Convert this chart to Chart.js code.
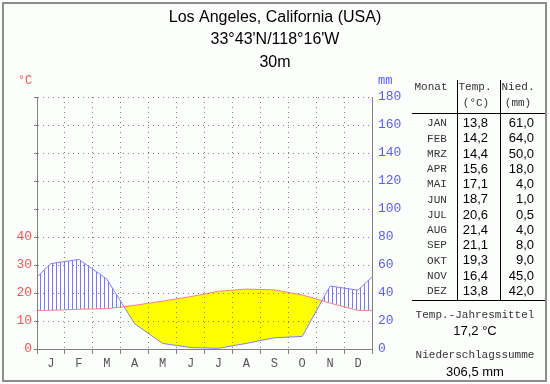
<!DOCTYPE html>
<html><head><meta charset="utf-8">
<script src="https://cdn.jsdelivr.net/npm/chart.js@4/dist/chart.umd.min.js"></script>
<style>html,body{margin:0;padding:0;background:#fff}canvas{display:block}</style>
</head><body>
<canvas id="c" width="550" height="384"></canvas>
<script>
// ---- data ----
const monthLetters = ['J','F','M','A','M','J','J','A','S','O','N','D'];
const monthNames = ['JAN','FEB','MRZ','APR','MAI','JUN','JUL','AUG','SEP','OKT','NOV','DEZ'];
const temperature = [13.8,14.2,14.4,15.6,17.1,18.7,20.6,21.4,21.1,19.3,16.4,13.8];
const precipitation = [61.0,64.0,50.0,18.0,4.0,1.0,0.5,4.0,8.0,9.0,45.0,42.0];
const tempTickLabels = [0,10,20,30,40];
const precTickLabels = [0,20,40,60,80,100,120,140,160,180];
const titleLines = ['Los Angeles, California (USA)', "33°43'N/118°16'W", '30m'];
const annualMeanTemp = '17,2 °C';
const annualPrecip = '306,5 mm';

// cyclic series: month centres, plus Dec before Jan and Jan after Dec (wrap-around)
function cyclic(values){
  const pts = values.map((v,i)=>({x:i+0.5, y:v}));
  pts.unshift({x:-0.5, y:values[values.length-1]});
  pts.push({x:values.length+0.5, y:values[0]});
  return pts;
}
const fmt = v => v.toFixed(1).replace('.', ',');

const pc = document.createElement('canvas'); pc.width = 4; pc.height = 4;
const pctx = pc.getContext('2d'); pctx.fillStyle = '#7878ff'; pctx.fillRect(0,0,1,4);
const hatch = pctx.createPattern(pc, 'repeat');

const MONO = '"Liberation Mono", "DejaVu Sans Mono", monospace';
const SANS = '"Liberation Sans", Arial, sans-serif';
const GRID = '#808080';

const decor = {
  id: 'decor',
  beforeDraw(chart){
    const ctx = chart.ctx;
    ctx.save(); ctx.fillStyle = '#fcfefc'; ctx.fillRect(0,0,chart.width,chart.height); ctx.restore();
  },
  afterDraw(chart){
    const ctx = chart.ctx;
    ctx.save();
    // title
    ctx.fillStyle = '#000'; ctx.textAlign = 'center'; ctx.textBaseline = 'middle';
    ctx.font = '16px ' + SANS;
    titleLines.forEach((t,i)=>ctx.fillText(t, 275, 17.5 + i*22.5));
    // units
    ctx.font = '12px ' + MONO;
    ctx.fillStyle = '#ff5050'; ctx.textAlign = 'center';
    ctx.fillText('°C', 25, 81);
    ctx.fillStyle = '#5a5aff'; ctx.textAlign = 'left';
    ctx.fillText('mm', 378, 81);
    // table
    ctx.strokeStyle = '#000'; ctx.lineWidth = 1;
    ctx.beginPath();
    ctx.moveTo(457.5, 80); ctx.lineTo(457.5, 300);
    ctx.moveTo(500.5, 80); ctx.lineTo(500.5, 300);
    ctx.moveTo(412, 113.5); ctx.lineTo(545, 113.5);
    ctx.moveTo(412, 300.5); ctx.lineTo(545, 300.5);
    ctx.stroke();
    ctx.fillStyle = '#333'; ctx.font = '11px ' + MONO; ctx.textAlign = 'center';
    ctx.fillText('Monat', 431, 87);
    ctx.fillText('Temp.', 475, 87);
    ctx.fillText('(°C)', 476, 103);
    ctx.fillText('Nied.', 518, 87);
    ctx.fillText('(mm)', 518, 103);
    for (let i=0;i<12;i++){
      const y = 123.5 + i*15.25;
      ctx.fillStyle = '#333'; ctx.font = '11px ' + MONO; ctx.textAlign = 'center';
      ctx.fillText(monthNames[i], 437, y);
      ctx.fillStyle = '#000'; ctx.font = '13px ' + SANS; ctx.textAlign = 'right';
      ctx.fillText(fmt(temperature[i]), 488, y);
      ctx.fillText(fmt(precipitation[i]), 534, y);
    }
    ctx.textAlign = 'center';
    ctx.fillStyle = '#333'; ctx.font = '11px ' + MONO;
    ctx.fillText('Temp.-Jahresmittel', 475, 315);
    ctx.fillText('Niederschlagssumme', 475, 355);
    ctx.fillStyle = '#000'; ctx.font = '13px ' + SANS;
    ctx.fillText(annualMeanTemp, 475, 331);
    ctx.fillText(annualPrecip, 475, 372);
    // frame
    ctx.strokeStyle = '#8c8c8c'; ctx.lineWidth = 2;
    ctx.strokeRect(3, 3, 543, 378);
    ctx.restore();
  }
};

new Chart(document.getElementById('c'), {
  type: 'line',
  data: {
    datasets: [
      { label: 'Niederschlag', data: cyclic(precipitation), yAxisID: 'y2', order: 2,
        borderColor: '#8080ff', borderWidth: 1, pointRadius: 0, tension: 0,
        fill: { target: 1, above: hatch, below: '#ffff00' } },
      { label: 'Temperatur', data: cyclic(temperature), yAxisID: 'y', order: 1,
        borderColor: '#ff8080', borderWidth: 1, pointRadius: 0, tension: 0, fill: false }
    ]
  },
  options: {
    responsive: false, animation: false, devicePixelRatio: 1,
    layout: { padding: { top: 97, left: 0, right: 0, bottom: 0 } },
    plugins: { legend: { display: false }, tooltip: { enabled: false }, title: { display: false } },
    scales: {
      x: {
        type: 'linear', min: 0, max: 12,
        afterBuildTicks: s => { const t = []; for (let i=0;i<=24;i++) t.push({value: i/2}); s.ticks = t; },
        afterFit: s => { s.height = 35; },
        ticks: { autoSkip: false, maxRotation: 0, minRotation: 0, padding: 3,
          callback: v => (v % 1 !== 0) ? monthLetters[Math.floor(v)] : '',
          color: '#555', font: { family: MONO, size: 12 } },
        grid: { z: 1, color: c => (c.tick && c.tick.value % 1 === 0) ? GRID : 'rgba(0,0,0,0)',
          tickColor: c => (c.tick && c.tick.value % 1 === 0) ? GRID : 'rgba(0,0,0,0)',
          tickLength: 5, tickBorderDash: [], borderDash: [1,4] },
        border: { color: GRID, dash: [1,4], z: 1 }
      },
      y: {
        position: 'left', min: 0, max: 90,
        afterFit: s => { s.width = 37; },
        ticks: { stepSize: 10, padding: 2, color: '#ff5050', font: { family: MONO, size: 13 },
          callback: v => tempTickLabels.includes(v) ? String(v) : '' },
        grid: { z: 1, color: GRID, tickColor: GRID, tickLength: 3, tickBorderDash: [], borderDash: [1,4] },
        border: { color: GRID, dash: [1,4], z: 1 }
      },
      y2: {
        position: 'right', min: 0, max: 180,
        afterFit: s => { s.width = 178; },
        ticks: { stepSize: 20, padding: 3, color: '#5a5aff', font: { family: MONO, size: 13 },
          callback: v => precTickLabels.includes(v) ? String(v) : '' },
        grid: { drawOnChartArea: false, tickColor: 'rgba(0,0,0,0)', tickLength: 3 },
        border: { color: GRID, z: 1 }
      }
    }
  },
  plugins: [decor]
});
</script>
</body></html>
